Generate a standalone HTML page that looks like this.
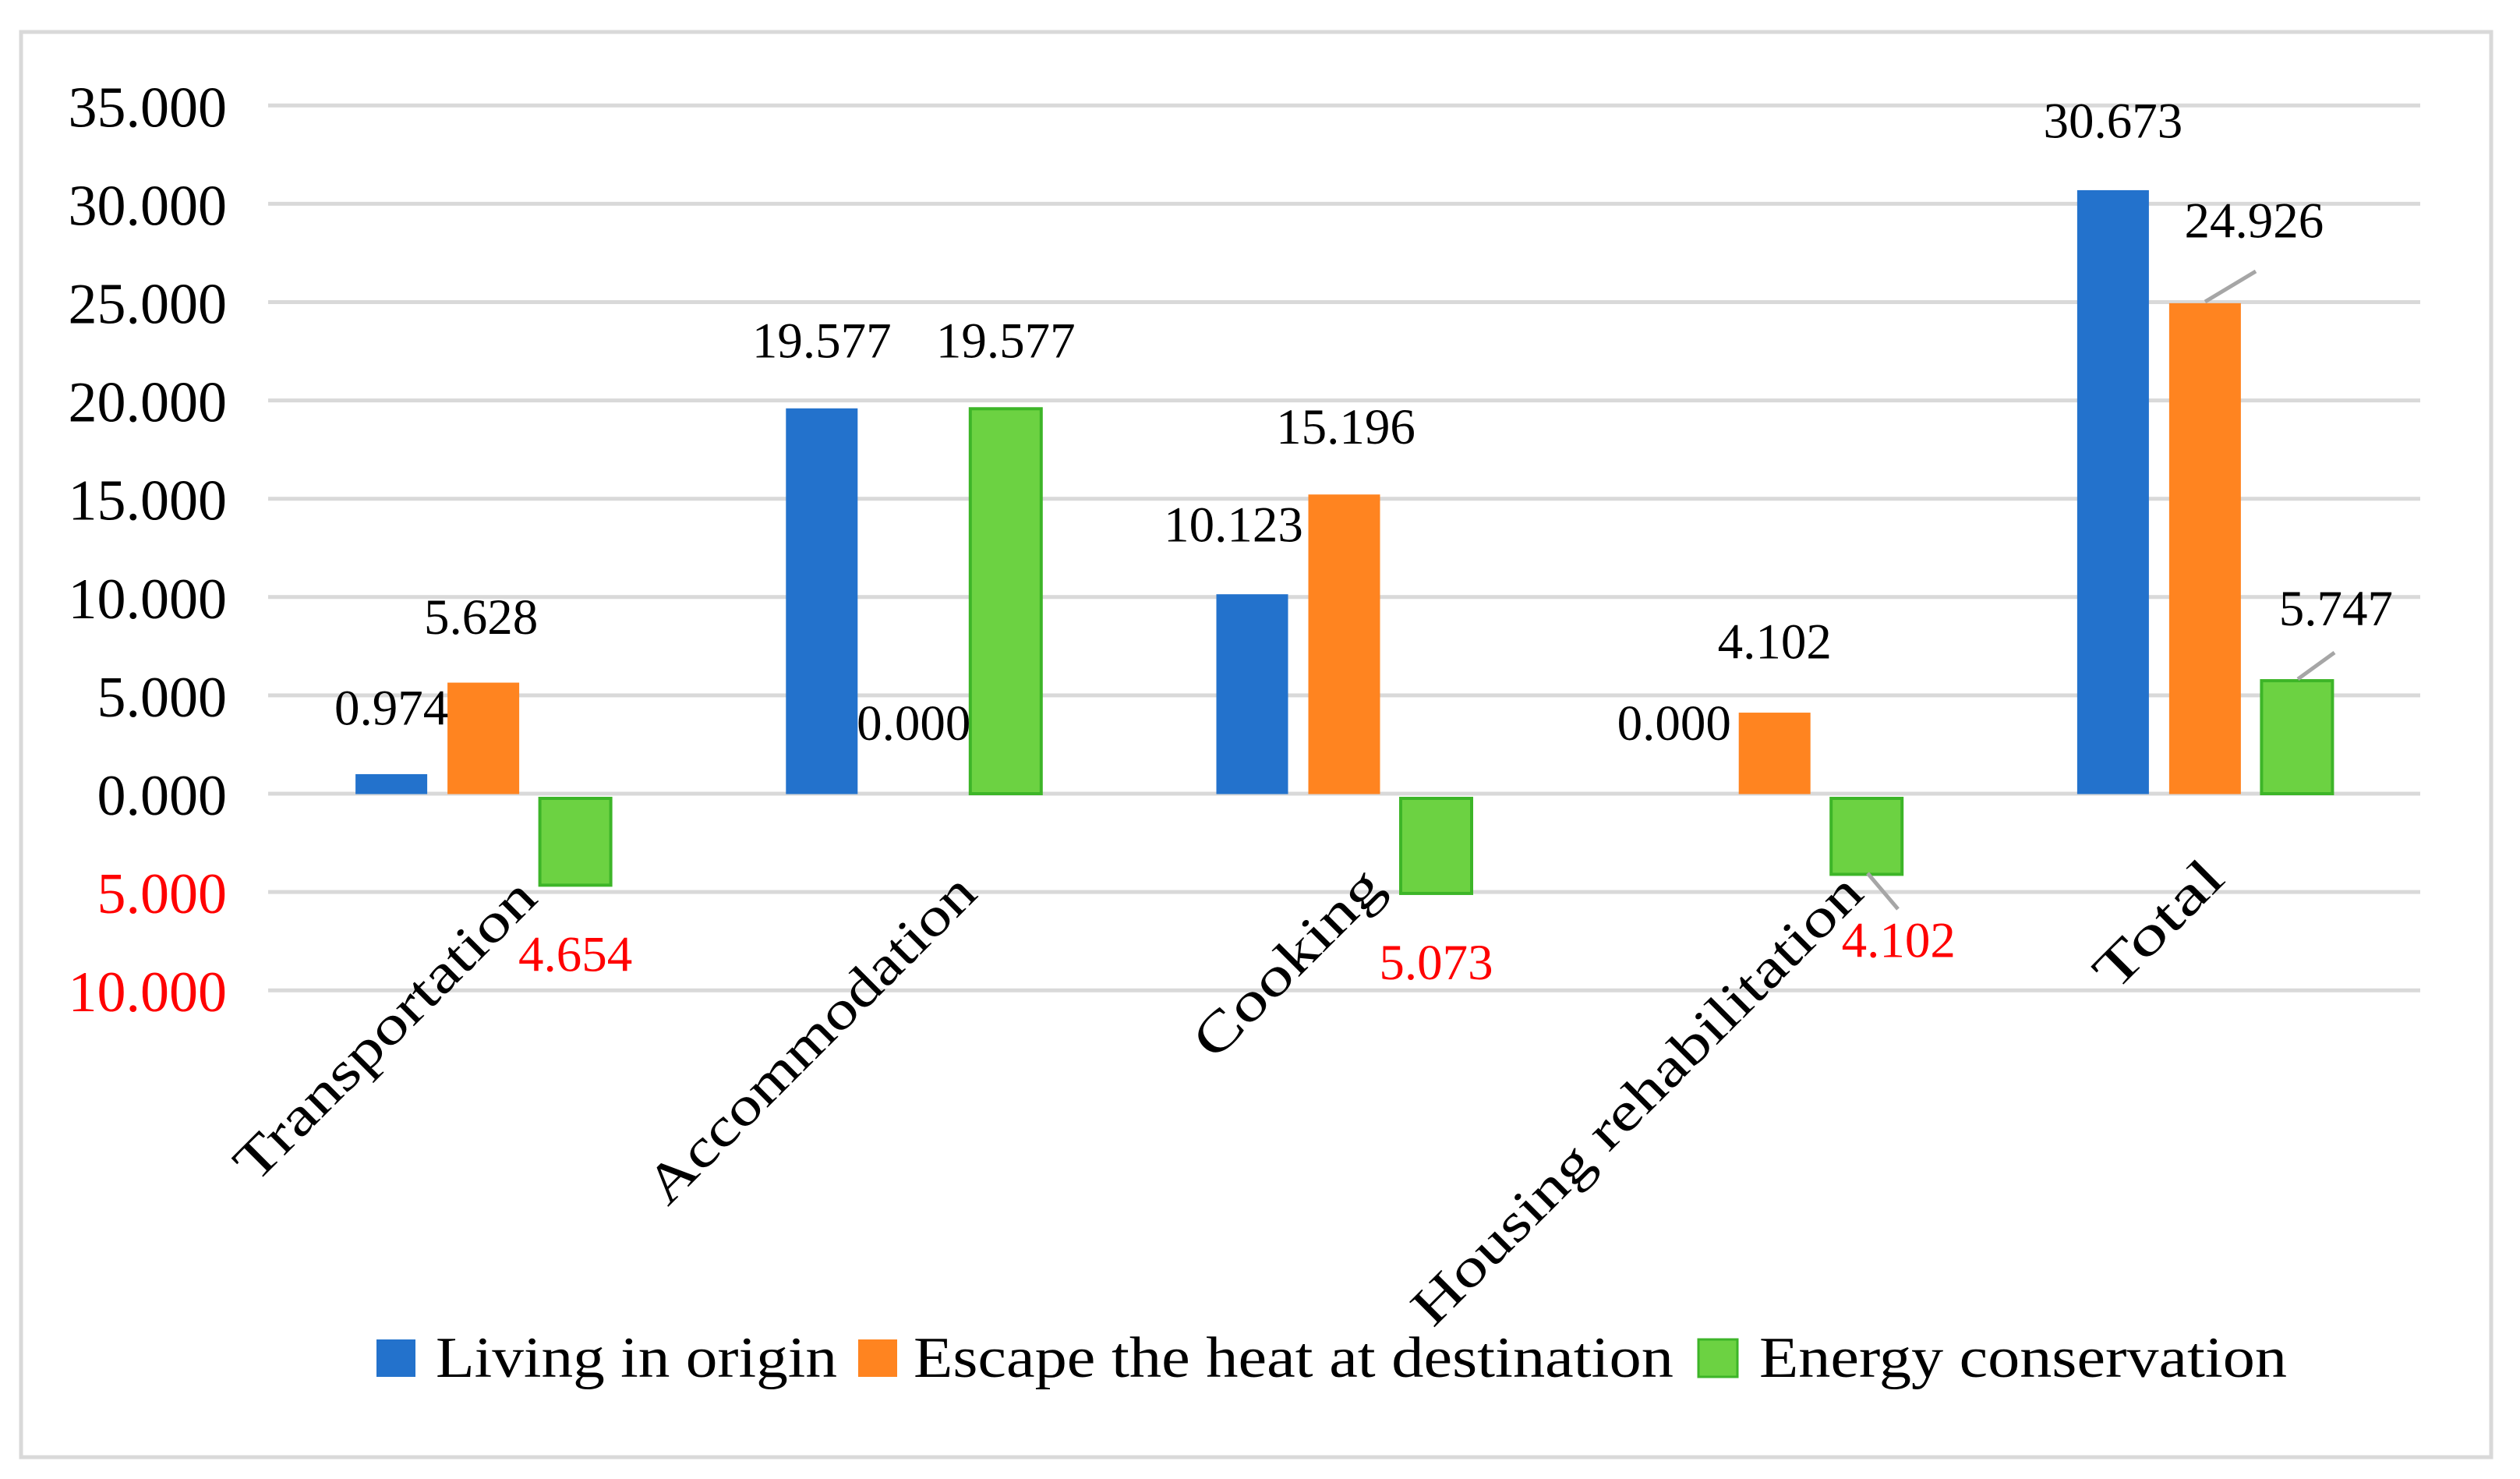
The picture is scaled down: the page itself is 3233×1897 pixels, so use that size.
<!DOCTYPE html>
<html><head><meta charset="utf-8"><style>
html,body{margin:0;padding:0;background:#fff;}
svg{display:block;font-family:"Liberation Serif",serif;}
</style></head><body>
<svg id="chart" width="3233" height="1897" viewBox="0 0 3233 1897" xmlns="http://www.w3.org/2000/svg">
<rect x="27" y="41" width="3169" height="1828" fill="#fff" stroke="#d9d9d9" stroke-width="5"/>
<g id="grid"></g><g id="yticks"></g><g id="bars"></g><g id="labels"></g><g id="cats"></g><g id="legend"></g>
</svg>
<script>
const categories = ["Transportation","Accommodation","Cooking","Housing rehabilitation","Total"];
const livingOrigin = [0.974, 19.577, 10.123, 0, 30.673];
const escapeHeat = [5.628, 0, 15.196, 4.102, 24.926];
const energyCons = [-4.654, 19.577, -5.073, -4.102, 5.747];
const yTicks = [35,30,25,20,15,10,5,0,-5,-10];
const yTickLabels = ["35.000","30.000","25.000","20.000","15.000","10.000","5.000","0.000","5.000","10.000"];
const seriesNames = ["Living in origin","Escape the heat at destination","Energy conservation"];

// layout (not data)
const NS = "http://www.w3.org/2000/svg";
const plotL = 344, plotR = 3105, zeroY = 1018, pxPerUnit = 25.22;
const colors = ["#2372CC","#FF8420","#6CD242"];
const strokes = ["#2372CC","#FF8420","#3DB528"];
const barOffsets = [-118, 0, 118];
const barW = 91;
const catLabelDx = [72, 84, 54, 117, 28];
const catLabelY = [1155, 1149, 1141, 1149, 1130];
const catLabelLen = [515, 565, 312, 785, 203];
const labelNudge = [
  [[0,-64],[0,-66],[-24,-68],[-11,-69],[0,-68]],
  [[-3,-63],[0,-69],[2,-66],[0,-70],[63,-85]],
  [[0,110],[0,-66],[0,110],[41,106],[50,-71]]
];
function y(v){ return zeroY - v*pxPerUnit; }
function x(i){ return plotL + (plotR-plotL)/categories.length*(i+0.5); }
function el(tag, attrs, parent){ const e=document.createElementNS(NS,tag); for(const k in attrs) e.setAttribute(k,attrs[k]); parent.appendChild(e); return e; }

const grid=document.getElementById('grid'), yt=document.getElementById('yticks');
yTicks.forEach((t,i)=>{
  const l=el('line',{x1:plotL,x2:plotR,y1:y(t),y2:y(t),stroke:'#d9d9d9','stroke-width':5},grid);
  
  
  const tx=el('text',{x:291,y:y(t)+27,'text-anchor':'end','font-size':74,fill:t<0?'#ff0000':'#000'},yt);
  tx.textContent=yTickLabels[i];
  
  
});

const series=[livingOrigin,escapeHeat,energyCons];
const bars=document.getElementById('bars'), labs=document.getElementById('labels');
series.forEach((vals,s)=>{
  vals.forEach((v,i)=>{
    const cx=x(i)+barOffsets[s];
    if(v!==0){
      const top=v>0?y(v):zeroY+6, h=Math.abs(v)*pxPerUnit-(v>0?0:6);
      const r=el('rect',{x:cx-barW/2,y:top,width:barW,height:h,fill:colors[s],stroke:strokes[s],'stroke-width':s===2?4:1},bars);
      
      
    }
    const base=y(v);
    const n=labelNudge[s][i];
    const t=el('text',{x:cx+n[0],y:base+n[1],'text-anchor':'middle','font-size':65,fill:v<0?'#ff0000':'#000'},labs);
    t.textContent=Math.abs(v).toFixed(3);
    
    
  });
});
[[2829,387,2894,348],[2948,871,2995,837],[2396,1120,2435,1166]].forEach(p=>{
  const l=el('line',{x1:p[0],y1:p[1],x2:p[2],y2:p[3],stroke:'#a6a6a6','stroke-width':5},labs);
  
  
});

const cats=document.getElementById('cats');
categories.forEach((c,i)=>{
  const ax=x(i)+catLabelDx[i], ay=catLabelY[i];
  const t=el('text',{x:ax,y:ay,'text-anchor':'end','font-size':70,textLength:catLabelLen[i],lengthAdjust:'spacingAndGlyphs',transform:`rotate(-45 ${ax} ${ay})`},cats);
  t.textContent=c;
  
  
});

const leg=document.getElementById('legend');
const legSq=[483,1101,2179], legTx=[559,1172,2257], legLen=[515,975,677];
seriesNames.forEach((n,s)=>{
  const r=el('rect',{x:legSq[s],y:1718,width:50,height:48,fill:colors[s],stroke:strokes[s],'stroke-width':s===2?3:0},leg);
  
  
  const t=el('text',{x:legTx[s],y:1766,'font-size':74,textLength:legLen[s],lengthAdjust:'spacingAndGlyphs'},leg);
  t.textContent=n;
  
  
});
</script>
</body></html>
